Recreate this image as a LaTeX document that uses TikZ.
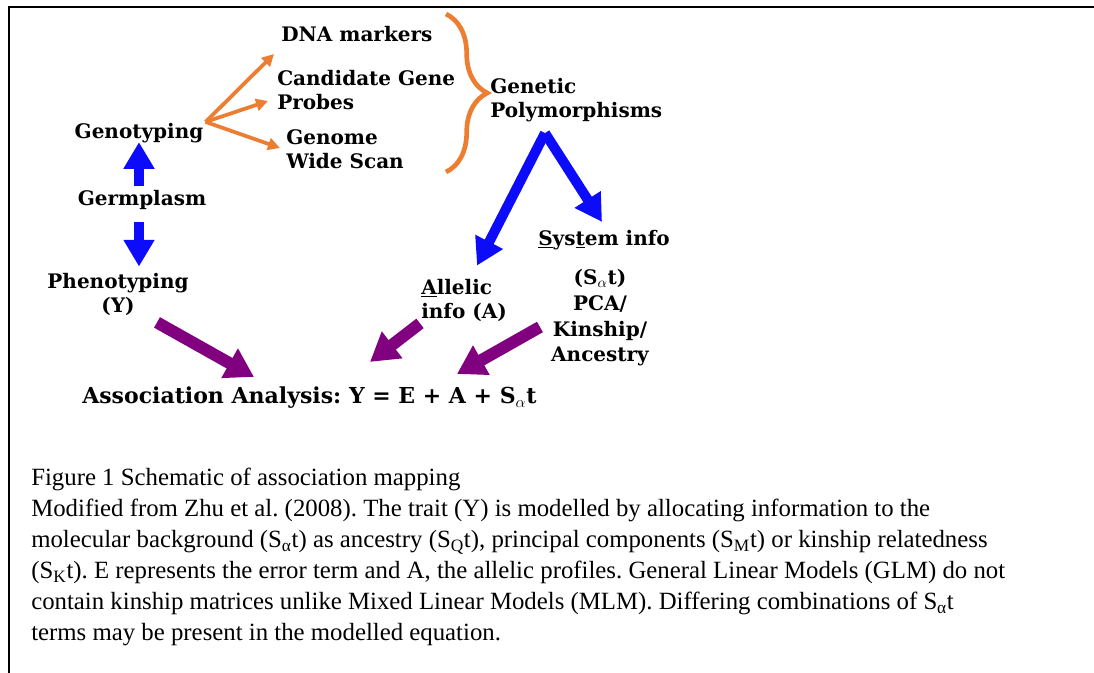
\documentclass[tikz,border=0pt]{standalone}
\usepackage{fontspec}
\setmainfont{Liberation Serif}
\newfontfamily\diagfont{DejaVu Serif}
\frenchspacing
\usetikzlibrary{arrows.meta, calc, positioning, decorations.pathreplacing}
\definecolor{braceorange}{RGB}{237,125,49}
\definecolor{arrowblue}{RGB}{12,12,250}
\definecolor{arrowpurple}{RGB}{128,0,128}
\tikzset{
  lbl/.style       = {font=\diagfont\bfseries\fontsize{15}{18}\selectfont, inner sep=0pt},
  lblleft/.style   = {lbl, align=left, anchor=west},
  orarrow/.style   = {-{Triangle[width=9pt,length=9pt]}, line width=2.8pt, braceorange},
  bluearrow/.style = {-{Triangle[width=22pt,length=20pt]}, line width=7.5pt, arrowblue},
  purparrow/.style = {-{Triangle[width=24pt,length=21pt]}, line width=9pt, arrowpurple},
  capt/.style      = {font=\fontsize{18.6}{23.25}\selectfont, align=left, anchor=north west, inner sep=0pt},
}

\begin{document}
\begin{tikzpicture}[x=0.75pt, y=-0.75pt]
  \useasboundingbox (0,0) rectangle (1094,673);
  \draw[line width=2.2pt] (9,673) -- (9,7) -- (1094,7);

  % germplasm column
  \node[lbl] (geno) at (139,133) {Genotyping};
  \node[lbl] (germ) at (142,200) {Germplasm};
  \node[lbl, align=center] (pheno) at (118,294) {Phenotyping\\(Y)};
  \draw[bluearrow] ($(germ.north -| geno)+(0,-4)$) -- ($(geno.south)+(0,-1)$);
  \draw[bluearrow] ($(germ.south -| geno)+(0,12)$) -- ($(pheno.north -| geno)+(0,-6)$);

  % genotyping platforms
  \node[lbl, anchor=west] (dna) at (281,34) {DNA markers};
  \node[lblleft] (cand) at (277,90) {Candidate Gene\\Probes};
  \node[lblleft] (gwide) at (286,149) {Genome\\Wide Scan};
  \coordinate (fork) at ($(geno.north east)+(2,-1)$);
  \draw[orarrow] (fork) -- ($(dna.south west)+(-7,12)$);
  \draw[orarrow] (fork) -- ($(cand.west)+(-9,11)$);
  \draw[orarrow] (fork) -- ($(gwide.west)+(-6,-1)$);
  \draw[braceorange, line width=3.5pt, decorate,
        decoration={brace, amplitude=31pt}] (446,14) -- (446,172);

  % polymorphisms
  \node[lblleft] (poly) at (490,100) {Genetic\\Polymorphisms};
  \node[lbl] (sysinfo) at (604,240) {\underline{S}ys\underline{t}em info};
  \node[lbl, align=center, font=\diagfont\bfseries\fontsize{15}{19.3}\selectfont] (sysdet) at (600,318)
    {(S$_{\alpha}$t)\\PCA/\\Kinship/\\Ancestry};
  \node[lblleft] (allelic) at (421,300) {\underline{A}llelic\\info (A)};
  \coordinate (polyfoot) at ($(poly.south west)+(55,11)$);
  \draw[bluearrow] (polyfoot) -- ($(sysinfo.north)+(-2,-8)$);
  \draw[bluearrow] (polyfoot) -- ($(allelic.north)+(13,-13)$);

  % association
  \node[lbl, anchor=west, font=\diagfont\bfseries\fontsize{16.5}{18}\selectfont] (assoc) at (82,398)
    {Association Analysis: Y = E + A + S$_{\alpha}$t};
  \draw[purparrow] ($(pheno.south)+(39,7)$) -- ($(assoc.north west)+(172,-10)$);
  \draw[purparrow] ($(allelic.south west)+(-1,2)$) -- ($(assoc.north west)+(288,-25)$);
  \draw[purparrow] ($(sysdet.west)+(-11,9)$) -- ($(assoc.north west)+(375,-13)$);

  % caption
  \node[capt] (caption) at (31,468) {Figure 1 Schematic of association mapping\\
    Modified from Zhu et al. (2008). The trait (Y) is modelled by allocating information to the\\
    molecular background (S\textsubscript{α}t) as ancestry (S\textsubscript{Q}t), principal components (S\textsubscript{M}t) or kinship relatedness\\
    (S\textsubscript{K}t). E represents the error term and A, the allelic profiles. General Linear Models (GLM) do not\\
    contain kinship matrices unlike Mixed Linear Models (MLM). Differing combinations of S\textsubscript{α}t\\
    terms may be present in the modelled equation.};
\end{tikzpicture}
\end{document}
